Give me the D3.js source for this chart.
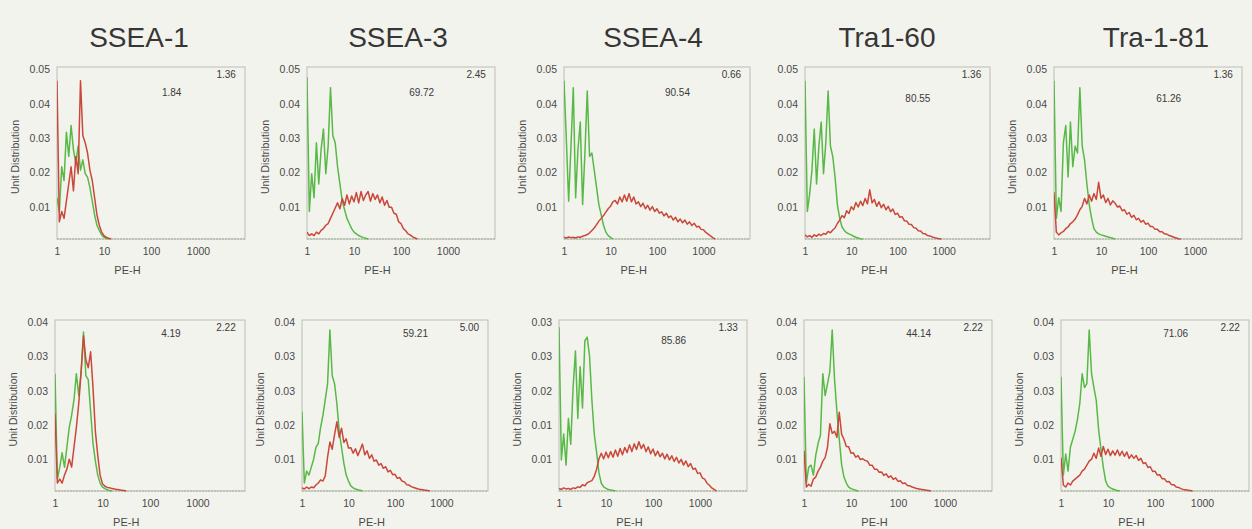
<!DOCTYPE html>
<html>
<head>
<meta charset="utf-8">
<script src="https://cdn.jsdelivr.net/npm/d3@7/dist/d3.min.js"></script>
<style>
  html, body { margin: 0; padding: 0; background: #f3f3ee; }
  svg { display: block; font-family: "Liberation Sans", Arial, sans-serif; }
  .tick text { fill: #4a4a4a; font-size: 10.5px; }
  .frame { fill: none; stroke: #bdbdb6; stroke-width: 1; }
  .base { stroke: #9fb29a; stroke-width: 1.2; stroke-dasharray: 2,1; }
  .green { fill: none; stroke: #58b946; stroke-width: 1.5; stroke-linejoin: round; }
  .red { fill: none; stroke: #c9483a; stroke-width: 1.5; stroke-linejoin: round; }
</style>
</head>
<body>
<div id="grafico"></div>
<script>
// histogram bins are equal steps of log10(PE-H), starting at PE-H = 1
var LOG_STEP = 0.05;

var titles = ["SSEA-1", "SSEA-3", "SSEA-4", "Tra1-60", "Tra-1-81"];
var xTicks = [1, 10, 100, 1000];
var xTickLabels = ["1", "10", "100", "1000"];
var xLabel = "PE-H";
var yLabel = "Unit Distribution";

// y axis top of each panel (top row first, then bottom row)
var yMax = [0.05, 0.05, 0.05, 0.05, 0.05, 0.043, 0.043, 0.033, 0.043, 0.043];
var yTickTop = ["0.01", "0.02", "0.03", "0.04", "0.05"];
var yTickBottom = ["0.01", "0.02", "0.03", "0.03", "0.04"];
var yTickSsea4 = ["0.01", "0.01", "0.02", "0.03", "0.03"];
var yTickLabels = [yTickTop, yTickTop, yTickTop, yTickTop, yTickTop,
                   yTickBottom, yTickBottom, yTickSsea4, yTickBottom, yTickBottom];
var showYLabel = [true, true, true, false, true, true, true, true, true, true];

// gate percentages
var gateInner = ["1.84", "69.72", "90.54", "80.55", "61.26", "4.19", "59.21", "85.86", "44.14", "71.06"];
var gateCorner = ["1.36", "2.45", "0.66", "1.36", "1.36", "2.22", "5.00", "1.33", "2.22", "2.22"];

// isotype control (green)
var green = [
  [0.012, 0.008, 0.021, 0.017, 0.031, 0.024, 0.033, 0.026, 0.022, 0.027, 0.02, 0.023, 0.019, 0.018, 0.015, 0.011, 0.007, 0.004, 0.0025, 0.0012, 0.0005, 0.0002, 0],
  [0.047, 0.008, 0.019, 0.012, 0.028, 0.016, 0.026, 0.032, 0.019, 0.027, 0.044, 0.03, 0.028, 0.021, 0.016, 0.011, 0.0085, 0.006, 0.0045, 0.003, 0.002, 0.0015, 0.001, 0.0007, 0.0004, 0.0002, 0],
  [0.046, 0.029, 0.011, 0.027, 0.044, 0.012, 0.026, 0.034, 0.01, 0.025, 0.043, 0.024, 0.025, 0.02, 0.015, 0.01, 0.007, 0.004, 0.002, 0.001, 0.0005, 0],
  [0.046, 0.008, 0.013, 0.02, 0.032, 0.016, 0.027, 0.034, 0.019, 0.028, 0.043, 0.027, 0.024, 0.018, 0.01, 0.006, 0.0035, 0.0025, 0.0018, 0.0015, 0.0012, 0.0008, 0.0005, 0.0003, 0.0001, 0],
  [0.046, 0.006, 0.012, 0.008, 0.028, 0.033, 0.018, 0.034, 0.021, 0.027, 0.025, 0.044, 0.027, 0.023, 0.016, 0.01, 0.006, 0.003, 0.002, 0.0015, 0.0012, 0.001, 0.0008, 0.0006, 0.0004, 0.0002, 0],
  [0.0295, 0.003, 0.006, 0.0096, 0.006, 0.011, 0.016, 0.019, 0.023, 0.0295, 0.024, 0.03, 0.04, 0.029, 0.028, 0.02, 0.012, 0.0075, 0.004, 0.002, 0.001, 0.0006, 0.0003, 0.0001, 0],
  [0.02, 0.002, 0.005, 0.004, 0.006, 0.008, 0.011, 0.012, 0.016, 0.019, 0.023, 0.027, 0.0405, 0.029, 0.027, 0.022, 0.015, 0.011, 0.007, 0.004, 0.0025, 0.0013, 0.0008, 0.0005, 0.0003, 0.0002, 0],
  [0.0316, 0.006, 0.011, 0.005, 0.014, 0.009, 0.02, 0.027, 0.014, 0.024, 0.016, 0.029, 0.0297, 0.026, 0.0175, 0.011, 0.0075, 0.0035, 0.0015, 0.0008, 0.0005, 0.0003, 0.0002, 0.0001, 0],
  [0.0287, 0.002, 0.006, 0.0065, 0.004, 0.009, 0.012, 0.014, 0.0295, 0.024, 0.027, 0.03, 0.0405, 0.028, 0.02, 0.013, 0.0067, 0.0035, 0.002, 0.001, 0.0006, 0.0004, 0.0002, 0],
  [0.0287, 0.004, 0.0093, 0.005, 0.011, 0.013, 0.015, 0.018, 0.022, 0.0295, 0.026, 0.027, 0.0405, 0.0295, 0.026, 0.0228, 0.0155, 0.0105, 0.006, 0.0025, 0.0012, 0.0008, 0.0005, 0.0003, 0.0001, 0]
];

// stained sample (red)
var red = [
  [0.046, 0.005, 0.008, 0.006, 0.011, 0.016, 0.021, 0.014, 0.024, 0.019, 0.046, 0.03, 0.028, 0.025, 0.02, 0.017, 0.012, 0.007, 0.004, 0.002, 0.001, 0.0005, 0.0002, 0],
  [0.002, 0.001, 0.0015, 0.001, 0.002, 0.0015, 0.0025, 0.003, 0.004, 0.0045, 0.006, 0.0075, 0.009, 0.0105, 0.0088, 0.0118, 0.0098, 0.0128, 0.0102, 0.0125, 0.0108, 0.0135, 0.0105, 0.0138, 0.0112, 0.0128, 0.0138, 0.011, 0.0132, 0.0115, 0.0128, 0.0105, 0.0122, 0.0098, 0.0112, 0.0092, 0.0092, 0.0075, 0.0072, 0.005, 0.0045, 0.003, 0.0024, 0.0015, 0.0011, 0.0006, 0.0003, 0],
  [0.0005, 0.0003, 0.0006, 0.0004, 0.0005, 0.0003, 0.0006, 0.0005, 0.0008, 0.001, 0.0013, 0.0018, 0.0025, 0.0032, 0.0042, 0.0052, 0.006, 0.0068, 0.0078, 0.0088, 0.0095, 0.0108, 0.0112, 0.0102, 0.0122, 0.0108, 0.0128, 0.011, 0.0132, 0.0108, 0.0122, 0.0102, 0.0108, 0.0094, 0.0104, 0.0088, 0.0098, 0.0084, 0.0094, 0.008, 0.0088, 0.0075, 0.0079, 0.0067, 0.0075, 0.0062, 0.0067, 0.0055, 0.0063, 0.005, 0.0058, 0.0047, 0.0055, 0.0043, 0.005, 0.0039, 0.0046, 0.0035, 0.0037, 0.0028, 0.0027, 0.0019, 0.0014, 0.0009, 0.0004, 0],
  [0.0012, 0.0006, 0.001, 0.0005, 0.0012, 0.0008, 0.0014, 0.001, 0.0016, 0.0014, 0.0022, 0.0018, 0.0026, 0.0032, 0.0045, 0.0055, 0.0068, 0.0062, 0.0082, 0.0074, 0.0094, 0.0085, 0.0106, 0.0093, 0.011, 0.0097, 0.0118, 0.0102, 0.0143, 0.0105, 0.0115, 0.0095, 0.0108, 0.0091, 0.0101, 0.0085, 0.0095, 0.0079, 0.0087, 0.0071, 0.0075, 0.0063, 0.0065, 0.0053, 0.0052, 0.0043, 0.0042, 0.0033, 0.0031, 0.0024, 0.0023, 0.0016, 0.0015, 0.001, 0.0009, 0.0006, 0.0004, 0.0002, 0.0001, 0],
  [0.0136, 0.002, 0.0012, 0.0018, 0.0022, 0.003, 0.0035, 0.0045, 0.005, 0.0058, 0.007, 0.0085, 0.0095, 0.0118, 0.0102, 0.0128, 0.011, 0.0132, 0.0115, 0.0165, 0.0118, 0.0128, 0.0106, 0.0118, 0.0099, 0.0111, 0.0104, 0.0093, 0.0096, 0.0082, 0.0085, 0.0072, 0.0077, 0.0063, 0.0069, 0.0056, 0.006, 0.0049, 0.0054, 0.0043, 0.0046, 0.0036, 0.0036, 0.0028, 0.0028, 0.0021, 0.0021, 0.0015, 0.0014, 0.001, 0.0008, 0.0005, 0.0003, 0.0001, 0],
  [0.0195, 0.002, 0.003, 0.002, 0.004, 0.0055, 0.008, 0.006, 0.011, 0.016, 0.022, 0.03, 0.039, 0.033, 0.031, 0.035, 0.026, 0.015, 0.009, 0.004, 0.0018, 0.0012, 0.0009, 0.0008, 0.0006, 0.0005, 0.0004, 0.0003, 0.0002, 0.0001, 0],
  [0.0008, 0.0005, 0.001, 0.0006, 0.001, 0.0008, 0.0015, 0.002, 0.0028, 0.0025, 0.0038, 0.0085, 0.0123, 0.0105, 0.0142, 0.0174, 0.0135, 0.0158, 0.0122, 0.0131, 0.0108, 0.0109, 0.0095, 0.0106, 0.0089, 0.0103, 0.0118, 0.0091, 0.0101, 0.0082, 0.0091, 0.0075, 0.0078, 0.0065, 0.0069, 0.0057, 0.0061, 0.0048, 0.0052, 0.0041, 0.0042, 0.0032, 0.0034, 0.0025, 0.0023, 0.0016, 0.0015, 0.0011, 0.0009, 0.0007, 0.0005, 0.0004, 0.0003, 0.0002, 0.0001, 0],
  [0.0005, 0.0003, 0.0006, 0.0004, 0.0005, 0.0003, 0.0006, 0.0005, 0.0008, 0.0007, 0.0012, 0.001, 0.0016, 0.0018, 0.002, 0.0028, 0.0042, 0.0062, 0.0073, 0.0062, 0.0075, 0.0064, 0.0076, 0.0065, 0.0079, 0.0067, 0.0082, 0.007, 0.0084, 0.0074, 0.0089, 0.0076, 0.0091, 0.008, 0.0095, 0.0082, 0.009, 0.0076, 0.0085, 0.0072, 0.0081, 0.0068, 0.0077, 0.0066, 0.0073, 0.0062, 0.0071, 0.006, 0.0068, 0.0057, 0.0065, 0.0054, 0.0061, 0.005, 0.0058, 0.0047, 0.0053, 0.0042, 0.0044, 0.0034, 0.0035, 0.0025, 0.0023, 0.0015, 0.0011, 0.0006, 0.0003, 0],
  [0.0101, 0.001, 0.0017, 0.0012, 0.003, 0.0035, 0.005, 0.006, 0.0075, 0.0084, 0.011, 0.0169, 0.0145, 0.015, 0.0135, 0.0198, 0.0143, 0.013, 0.0112, 0.0111, 0.0095, 0.0096, 0.0085, 0.0089, 0.0079, 0.0081, 0.0077, 0.0075, 0.0065, 0.0065, 0.0055, 0.0055, 0.0047, 0.0048, 0.0039, 0.0043, 0.0034, 0.0038, 0.0029, 0.0033, 0.0024, 0.0026, 0.0019, 0.002, 0.0014, 0.0013, 0.001, 0.0008, 0.0006, 0.0005, 0.0004, 0.0003, 0.0002, 0.0001, 0],
  [0.0084, 0.0015, 0.001, 0.002, 0.0015, 0.0025, 0.003, 0.0035, 0.004, 0.005, 0.0055, 0.0065, 0.0075, 0.008, 0.0095, 0.0082, 0.0108, 0.0087, 0.0112, 0.0092, 0.0105, 0.0089, 0.0101, 0.009, 0.0103, 0.0089, 0.01, 0.0087, 0.0098, 0.0082, 0.0091, 0.0082, 0.0089, 0.0077, 0.0082, 0.0069, 0.0071, 0.0059, 0.0061, 0.0049, 0.005, 0.004, 0.0041, 0.0031, 0.0031, 0.0023, 0.0024, 0.0016, 0.0016, 0.001, 0.0009, 0.0006, 0.0004, 0.0003, 0.0002, 0.0001, 0]
];

// ---- layout ----
var W = 1252, H = 529;
var panelLeft = [57, 307, 564, 805, 1054, 55, 302, 559, 804, 1061];
var panelWidth = [188, 188, 186, 185, 188, 190, 186, 188, 188, 188];
var rowTop = [67, 320];
var rowHeight = [172, 171];
var titleX = [139, 398, 653, 887, 1156];
var innerDy = [29, 29, 29, 35, 35, 17, 17, 24, 17, 17];

var svg = d3.select("#grafico").append("svg")
  .attr("width", W).attr("height", H);

svg.selectAll("text.title")
  .data(titles).enter().append("text")
  .attr("class", "title")
  .attr("x", function(d, i){ return titleX[i]; })
  .attr("y", 47)
  .attr("text-anchor", "middle")
  .attr("font-size", "28px")
  .attr("fill", "#363636")
  .text(function(d){ return d; });

d3.range(10).forEach(function(p){
  var row = p < 5 ? 0 : 1;
  var left = panelLeft[p], top = rowTop[row];
  var w = panelWidth[p], h = rowHeight[row];

  var x = d3.scaleLog().domain([1, 10000]).range([0, w]);
  var y = d3.scaleLinear().domain([0, yMax[p]]).range([h, 0]);

  var g = svg.append("g").attr("transform", "translate(" + left + "," + top + ")");

  g.append("clipPath").attr("id", "clip" + p)
    .append("rect").attr("width", w).attr("height", h + 1);

  g.append("rect").attr("class", "frame")
    .attr("width", w).attr("height", h);
  g.append("line").attr("class", "base")
    .attr("x1", 0).attr("x2", w).attr("y1", h).attr("y2", h);

  var yTickVals = d3.range(1, 6).map(function(k){ return yMax[p] * k / 5; });
  var ya = g.append("g")
    .call(d3.axisLeft(y).tickValues(yTickVals).tickSize(0).tickPadding(7)
      .tickFormat(function(d, i){ return yTickLabels[p][i]; }));
  ya.select(".domain").remove();
  ya.selectAll(".tick text").attr("dy", "0.55em");

  var xa = g.append("g").attr("transform", "translate(0," + h + ")")
    .call(d3.axisBottom(x).tickValues(xTicks).tickSize(0).tickPadding(9)
      .tickFormat(function(d, i){ return xTickLabels[i]; }));
  xa.select(".domain").remove();

  g.append("text")
    .attr("x", x(Math.pow(10, 1.5))).attr("y", h + 35)
    .attr("text-anchor", "middle").attr("font-size", "11px").attr("fill", "#4a4a4a")
    .text(xLabel);

  if (showYLabel[p]) {
    g.append("text")
      .attr("transform", "translate(-38," + (h / 2 + 4) + ") rotate(-90)")
      .attr("text-anchor", "middle").attr("font-size", "10.5px").attr("fill", "#4a4a4a")
      .text(yLabel);
  }

  g.append("text")
    .attr("x", w * 0.61).attr("y", innerDy[p])
    .attr("text-anchor", "middle").attr("font-size", "10px").attr("fill", "#3a3a3a")
    .text(gateInner[p]);
  g.append("text")
    .attr("x", w * 0.9).attr("y", 11)
    .attr("text-anchor", "middle").attr("font-size", "10px").attr("fill", "#3a3a3a")
    .text(gateCorner[p]);

  var line = d3.line()
    .x(function(d, i){ return x(Math.pow(10, i * LOG_STEP)); })
    .y(function(d){ return y(d); });

  var plot = g.append("g").attr("clip-path", "url(#clip" + p + ")");
  plot.append("path").datum(green[p]).attr("class", "green").attr("d", line);
  plot.append("path").datum(red[p]).attr("class", "red").attr("d", line);
});
</script>
</body>
</html>
